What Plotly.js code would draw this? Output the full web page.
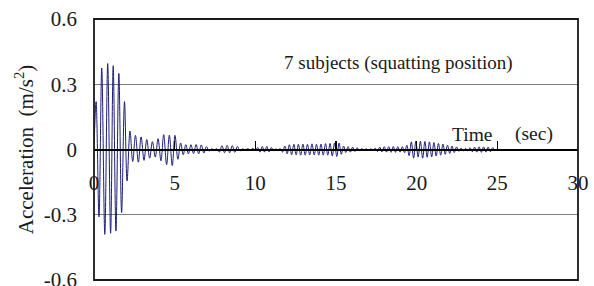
<!DOCTYPE html>
<html>
<head>
<meta charset="utf-8">
<script src="https://cdn.plot.ly/plotly-3.0.1.min.js"></script>
<style>html,body{margin:0;padding:0;background:#fff;}#chart{width:594px;height:286px;}</style>
</head>
<body>
<div id="chart"></div>
<script>
const time = [
  0, 0.13, 0.31, 0.48, 0.67, 0.85, 1.03, 1.19, 1.36, 1.54, 1.71, 1.89, 2.05, 2.23, 2.40, 2.57, 2.75, 2.92, 3.10, 3.27,
  3.45, 3.62, 3.80, 3.97, 4.15, 4.32, 4.50, 4.67, 4.85, 5.02, 5.20, 5.37,
  5.53, 5.69, 5.85, 6.01, 6.17, 6.33, 6.49, 6.65, 6.81, 6.97, 7.13,
  7.29, 7.45, 7.61,
  7.77, 7.93, 8.09, 8.25, 8.41, 8.57, 8.73, 8.89, 9.05,
  9.21, 9.37, 9.53, 9.69, 9.85, 10.01,
  10.15, 10.29, 10.43, 10.57, 10.71, 10.85, 10.99, 11.13,
  11.27, 11.41, 11.55,
  11.69, 11.83, 11.97, 12.11, 12.25, 12.39, 12.53, 12.67, 12.81, 12.95, 13.09, 13.23, 13.37, 13.51, 13.65, 13.79,
  13.93, 14.07, 14.21, 14.35, 14.49, 14.63, 14.77, 14.91, 15.05, 15.19,
  15.33, 15.47, 15.61, 15.75, 15.89, 16.03, 16.17, 16.31, 16.45, 16.59,
  16.73, 16.87, 17.01, 17.15, 17.29,
  17.43, 17.57, 17.71, 17.85, 17.99, 18.13, 18.27, 18.41, 18.55, 18.69, 18.83, 18.97, 19.11, 19.25, 19.39,
  19.53, 19.67, 19.81, 19.95, 20.09, 20.23, 20.37, 20.51, 20.65, 20.79, 20.93, 21.07, 21.21,
  21.35, 21.49, 21.63, 21.77, 21.91, 22.05, 22.19, 22.33, 22.47, 22.61, 22.75, 22.89, 23.03, 23.17, 23.31, 23.45,
  23.59, 23.73, 23.87, 24.01, 24.15, 24.29, 24.43, 24.57, 24.71, 24.85, 25.0
];
// Acceleration (m/s^2) at those extremes
const acceleration = [
  0, 0.22, -0.31, 0.375, -0.39, 0.395, -0.385, 0.385, -0.375, 0.35, -0.29, 0.22, -0.145, 0.085, -0.055, 0.065, -0.058, 0.058, -0.05, 0.046,
  -0.04, 0.036, -0.035, 0.05, -0.052, 0.068, -0.07, 0.066, -0.074, 0.065, -0.045, 0.03,
  -0.024, 0.022, -0.02, 0.022, -0.019, 0.023, -0.02, 0.021, -0.016, 0.013, -0.008,
  0.003, -0.003, 0.004,
  -0.012, 0.018, -0.015, 0.019, -0.015, 0.018, -0.013, 0.014, -0.007,
  0.003, -0.003, 0.004, -0.003, 0.005, -0.004,
  0.009, -0.012, 0.014, -0.012, 0.014, -0.011, 0.009, -0.005,
  0.003, -0.003, 0.004,
  -0.012, 0.016, -0.02, 0.022, -0.024, 0.024, -0.025, 0.024, -0.026, 0.025, -0.026, 0.024, -0.025, 0.026, -0.025, 0.024,
  -0.026, 0.025, -0.026, 0.027, -0.026, 0.028, -0.03, 0.03, -0.032, 0.03,
  -0.022, 0.016, -0.014, 0.013, -0.012, 0.011, -0.009, 0.008, -0.005, 0.004,
  -0.003, 0.003, -0.003, 0.003, -0.003,
  0.006, -0.009, 0.011, -0.011, 0.013, -0.012, 0.013, -0.013, 0.014, -0.013, 0.013, -0.012, 0.013, -0.015, 0.02,
  -0.028, 0.035, -0.04, 0.038, -0.035, 0.038, -0.04, 0.037, -0.036, 0.035, -0.034, 0.032, -0.03,
  0.028, -0.026, 0.025, -0.022, 0.02, -0.018, 0.016, -0.014, 0.012, -0.008, 0.006, -0.006, 0.005, -0.006, 0.008, -0.01,
  0.011, -0.012, 0.012, -0.013, 0.012, -0.012, 0.011, -0.01, 0.008, -0.005, 0
];
const xTickVals = [0, 5, 10, 15, 20, 25, 30];
const xTickText = ['0', '5', '10', '15', '20', '25', '30'];
const yTickVals = [-0.6, -0.3, 0, 0.3, 0.6];
const yTickText = ['-0.6', '-0.3', '0', '0.3', '0.6'];

const FONT = '"Liberation Serif", "Times New Roman", Times, serif';
const TXT = '#1a1a1a';

const trace = {
  x: time, y: acceleration, type: 'scatter', mode: 'lines',
  line: {color: '#1c1c78', width: 1, shape: 'spline', smoothing: 1},
  hoverinfo: 'skip'
};

const layout = {
  width: 594, height: 286,
  margin: {l: 94, r: 16, t: 19, b: 6, pad: 0},
  paper_bgcolor: '#ffffff', plot_bgcolor: '#ffffff',
  showlegend: false,
  font: {family: FONT, size: 19, color: TXT},
  xaxis: {
    range: [0, 30], tickvals: xTickVals, ticktext: xTickText,
    anchor: 'free', position: 0.5,
    showline: true, linecolor: '#000', linewidth: 2,
    ticks: 'inside', ticklen: 8, tickwidth: 1.5, tickcolor: '#000',
    ticklabelstandoff: 14,
    showgrid: false, zeroline: false,
    tickfont: {family: FONT, size: 21, color: TXT}
  },
  yaxis: {
    range: [-0.6, 0.6], tickvals: yTickVals, ticktext: yTickText,
    showline: false, ticks: '', ticklabelstandoff: 16,
    ticklabeloverflow: 'allow',
    showgrid: true, gridcolor: '#808080', gridwidth: 1,
    zeroline: false,
    tickfont: {family: FONT, size: 21, color: TXT},
    title: {text: 'Acceleration&nbsp;&nbsp;(m/s<sup>2</sup>)', font: {family: FONT, size: 21, color: TXT}, standoff: 4}
  },
  shapes: [
    {type: 'rect', xref: 'paper', yref: 'paper', x0: 0, x1: 1, y0: 0, y1: 1,
     line: {color: '#1a1a1a', width: 1.8}, fillcolor: 'rgba(0,0,0,0)', layer: 'above'}
  ],
  annotations: [
    {x: 18.9, y: 0.40, xref: 'x', yref: 'y', text: '7 subjects (squatting position)', showarrow: false,
     font: {family: FONT, size: 19, color: TXT}},
    {x: 23.4, y: 0.069, xref: 'x', yref: 'y', text: 'Time', showarrow: false,
     font: {family: FONT, size: 19.5, color: TXT}},
    {x: 27.3, y: 0.069, xref: 'x', yref: 'y', text: '(sec)', showarrow: false,
     font: {family: FONT, size: 19.5, color: TXT}}
  ]
};

Plotly.newPlot('chart', [trace], layout, {displayModeBar: false, staticPlot: true});
</script>
</body>
</html>
